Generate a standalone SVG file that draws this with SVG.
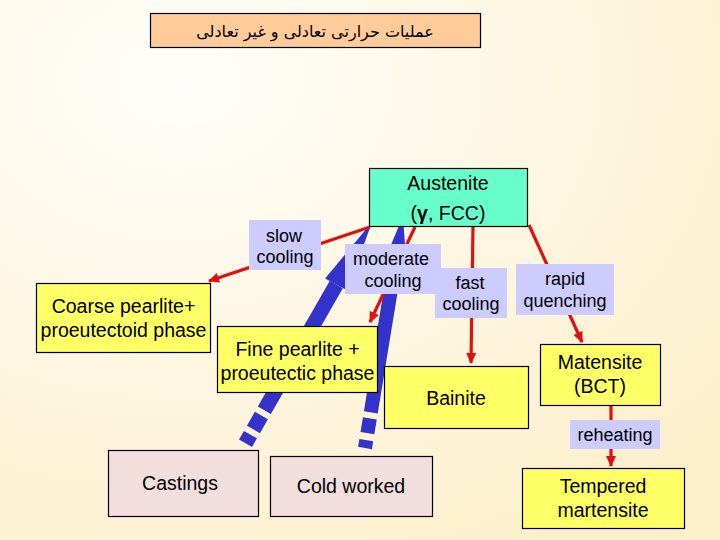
<svg xmlns="http://www.w3.org/2000/svg" width="720" height="540" viewBox="0 0 720 540">
<defs>
<radialGradient id="bg" cx="0.25" cy="0.15" r="1.0">
<stop offset="0" stop-color="#FFFEFA"/>
<stop offset="1" stop-color="#FCEFCB"/>
</radialGradient>
<marker id="ah" markerUnits="userSpaceOnUse" markerWidth="11" markerHeight="10" viewBox="0 0 11 10" refX="10" refY="5" orient="auto">
<path d="M0,0 L11,5 L0,10 z" fill="#E01010"/>
</marker>
<style>
.box{stroke:#000;stroke-width:1.2}
.yel{fill:#FFFF66}
.pink{fill:#F2DEDD}
.lab{fill:#CCCCFF}
.t{font-family:"Liberation Sans",Arial,sans-serif;font-size:19.5px;fill:#000;text-anchor:middle}
.l{font-family:"Liberation Sans",Arial,sans-serif;font-size:18px;fill:#000;text-anchor:middle}
.red{stroke:#E01010;stroke-width:3.2;fill:none;marker-end:url(#ah)}
.band{fill:none;stroke:#3333CC}
</style>
</defs>
<rect x="0" y="0" width="720" height="540" fill="url(#bg)"/>

<g id="title">
<rect x="150.5" y="13.5" width="330" height="34" fill="#FFCC99" class="box"/>
<text x="315" y="37" font-family="'DejaVu Sans', sans-serif" font-size="16" text-anchor="middle" fill="#000">عملیات حرارتی تعادلی و غیر تعادلی</text>
</g>

<g id="connectors">
<path class="band" d="M245.5,443.3 L336.3,284.5" stroke-width="15" stroke-dasharray="10 6 16 6 400"/>
<polygon points="372,222 347.5,290.4 325.1,278.6" fill="#3333CC"/>
<path class="band" d="M365,448 L394.1,270.3" stroke-width="14" stroke-dasharray="8 7 15 6 400"/>
<polygon points="403,216 406.9,272.4 381.3,268.2" fill="#3333CC"/>
<line class="red" x1="370" y1="227" x2="209" y2="281"/>
<line class="red" x1="415" y1="227" x2="370" y2="322"/>
<line class="red" x1="473" y1="227" x2="471" y2="363"/>
<line class="red" x1="529" y1="225" x2="582" y2="342"/>
<line class="red" x1="611" y1="405" x2="611" y2="466"/>
</g>

<g id="austenite">
<rect x="369.5" y="168.5" width="158" height="58" fill="#66FFCC" class="box"/>
<text class="t" x="448" y="190">Austenite</text>
<text class="t" x="448" y="220">(<tspan font-weight="bold">γ</tspan>, FCC)</text>
</g>

<g id="slow-cooling">
<rect x="249" y="220" width="72" height="50" class="lab"/>
<text class="l" x="284" y="242">slow</text>
<text class="l" x="285" y="263">cooling</text>
</g>

<g id="fast-cooling">
<rect x="435" y="268" width="72" height="50" class="lab"/>
<text class="l" x="470" y="289">fast</text>
<text class="l" x="471" y="310">cooling</text>
</g>

<g id="moderate-cooling">
<rect x="345" y="244" width="96" height="50" class="lab"/>
<text class="l" x="391" y="265">moderate</text>
<text class="l" x="393" y="287">cooling</text>
</g>

<g id="rapid-quenching">
<rect x="516" y="264" width="98" height="51" class="lab"/>
<text class="l" x="565" y="285">rapid</text>
<text class="l" x="565" y="307">quenching</text>
</g>

<g id="coarse-pearlite">
<rect x="36.5" y="283.5" width="174" height="69" class="box yel"/>
<text class="t" x="123.5" y="313">Coarse pearlite+</text>
<text class="t" x="123.5" y="337">proeutectoid phase</text>
</g>

<g id="fine-pearlite">
<rect x="217.5" y="326.5" width="160" height="66" class="box yel"/>
<text class="t" x="297.5" y="356">Fine pearlite +</text>
<text class="t" x="297.5" y="380">proeutectic phase</text>
</g>

<g id="bainite">
<rect x="384.5" y="366.5" width="144" height="62" class="box yel"/>
<text class="t" x="456" y="405">Bainite</text>
</g>

<g id="martensite">
<rect x="540.5" y="344.5" width="120" height="61" class="box yel"/>
<text class="t" x="600" y="369">Matensite</text>
<text class="t" x="600" y="393">(BCT)</text>
</g>

<g id="reheating">
<rect x="570" y="420" width="90" height="29" class="lab"/>
<text class="l" x="615" y="441">reheating</text>
</g>

<g id="tempered-martensite">
<rect x="522.5" y="468.5" width="162" height="60" class="box yel"/>
<text class="t" x="603" y="493">Tempered</text>
<text class="t" x="603" y="517">martensite</text>
</g>

<g id="castings">
<rect x="108.5" y="450.5" width="150" height="66" class="box pink"/>
<text class="t" x="180" y="490">Castings</text>
</g>

<g id="cold-worked">
<rect x="270.5" y="456.5" width="162" height="60" class="box pink"/>
<text class="t" x="351" y="493">Cold worked</text>
</g>
</svg>
